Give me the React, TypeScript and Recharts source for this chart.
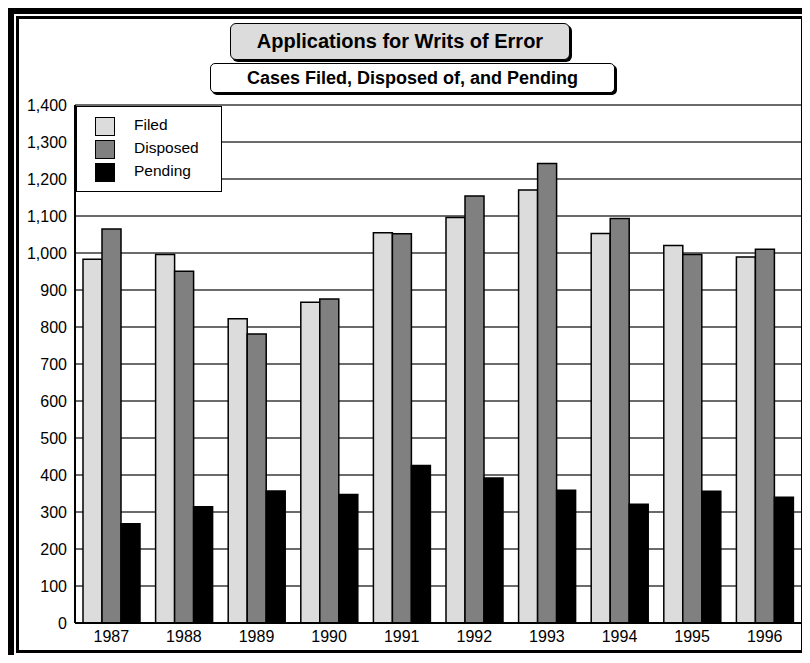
import { BarChart, Bar, XAxis, YAxis, CartesianGrid } from 'recharts';

const years = ['1987', '1988', '1989', '1990', '1991', '1992', '1993', '1994', '1995', '1996'];
const filed = [983, 996, 822, 867, 1055, 1096, 1170, 1053, 1020, 989];
const disposed = [1065, 951, 781, 876, 1052, 1154, 1242, 1093, 996, 1010];
const pending = [268, 314, 357, 347, 426, 392, 359, 321, 356, 340];
const yTicks = [0, 100, 200, 300, 400, 500, 600, 700, 800, 900, 1000, 1100, 1200, 1300, 1400];

const data = years.map((year, i) => ({
  year,
  filed: filed[i],
  disposed: disposed[i],
  pending: pending[i],
}));

const FONT = '"Liberation Sans", Arial, sans-serif';

const series = [
  { key: 'filed', name: 'Filed', color: '#dcdcdc' },
  { key: 'disposed', name: 'Disposed', color: '#808080' },
  { key: 'pending', name: 'Pending', color: '#000000' },
];

const LegendBox = () => (
  <div
    style={{
      position: 'absolute',
      left: 76,
      top: 106,
      width: 146,
      height: 86,
      boxSizing: 'border-box',
      background: '#fff',
      border: '1px solid #000',
      padding: '8px 0 0 18px',
      fontFamily: FONT,
      fontSize: 15.5,
    }}
  >
    {series.map((s) => (
      <div key={s.key} style={{ display: 'flex', alignItems: 'center', height: 23 }}>
        <span
          style={{
            width: 20,
            height: 19,
            boxSizing: 'border-box',
            background: s.color,
            border: '1px solid #000',
            marginRight: 19,
          }}
        />
        <span style={{ marginTop: -3 }}>{s.name}</span>
      </div>
    ))}
  </div>
);

export default function App() {
  return (
    <div
      style={{
        position: 'relative',
        width: 810,
        height: 663,
        overflow: 'hidden',
        background: '#fff',
        margin: -8,
      }}
    >
      {/* frame */}
      <div style={{ position: 'absolute', left: 3, top: 3, width: 830, height: 680, background: '#000' }} />
      <div style={{ position: 'absolute', left: 14, top: 14, width: 792, height: 641, background: '#fff' }} />
      <div
        style={{
          position: 'absolute',
          left: 16,
          top: 16,
          width: 788,
          height: 637,
          boxSizing: 'border-box',
          border: '3px solid #000',
          background: '#fff',
        }}
      />

      <div style={{ position: 'absolute', left: 0, top: 0 }}>
        <BarChart
          width={810}
          height={663}
          data={data}
          margin={{ top: 105, right: 9, bottom: 10, left: 0 }}
          barCategoryGap={8}
          barGap={0}
        >
          <CartesianGrid vertical={false} stroke="#3a3a3a" strokeWidth={1.5} />
          <XAxis
            dataKey="year"
            height={30}
            tickLine={false}
            axisLine={{ stroke: '#000', strokeWidth: 2 }}
            tick={{ fill: '#000', fontSize: 16, fontFamily: FONT }}
          />
          <YAxis
            width={75}
            domain={[0, 1400]}
            ticks={yTicks}
            interval={0}
            tickLine={false}
            axisLine={{ stroke: '#000', strokeWidth: 2 }}
            tick={{ fill: '#000', fontSize: 16, fontFamily: FONT }}
            tickFormatter={(v: number) => v.toLocaleString('en-US')}
          />
          {series.map((s) => (
            <Bar
              key={s.key}
              dataKey={s.key}
              name={s.name}
              fill={s.color}
              stroke="#000"
              strokeWidth={1.5}
              isAnimationActive={false}
            />
          ))}
        </BarChart>
      </div>

      <LegendBox />

      {/* titles */}
      <div
        style={{
          position: 'absolute',
          left: 230,
          top: 23,
          width: 340,
          height: 37,
          boxSizing: 'border-box',
          background: '#dcdcdc',
          border: '1.5px solid #000',
          borderRadius: 6,
          boxShadow: '2px 2px 0 #000',
          display: 'flex',
          alignItems: 'center',
          justifyContent: 'center',
          fontFamily: FONT,
          fontWeight: 700,
          fontSize: 20,
        }}
      >
        Applications for Writs of Error
      </div>
      <div
        style={{
          position: 'absolute',
          left: 210,
          top: 63,
          width: 405,
          height: 30,
          boxSizing: 'border-box',
          background: '#fff',
          border: '1.5px solid #000',
          borderRadius: 5,
          boxShadow: '2px 2px 0 #000',
          display: 'flex',
          alignItems: 'center',
          justifyContent: 'center',
          fontFamily: FONT,
          fontWeight: 700,
          fontSize: 18,
        }}
      >
        Cases Filed, Disposed of, and Pending
      </div>
    </div>
  );
}
